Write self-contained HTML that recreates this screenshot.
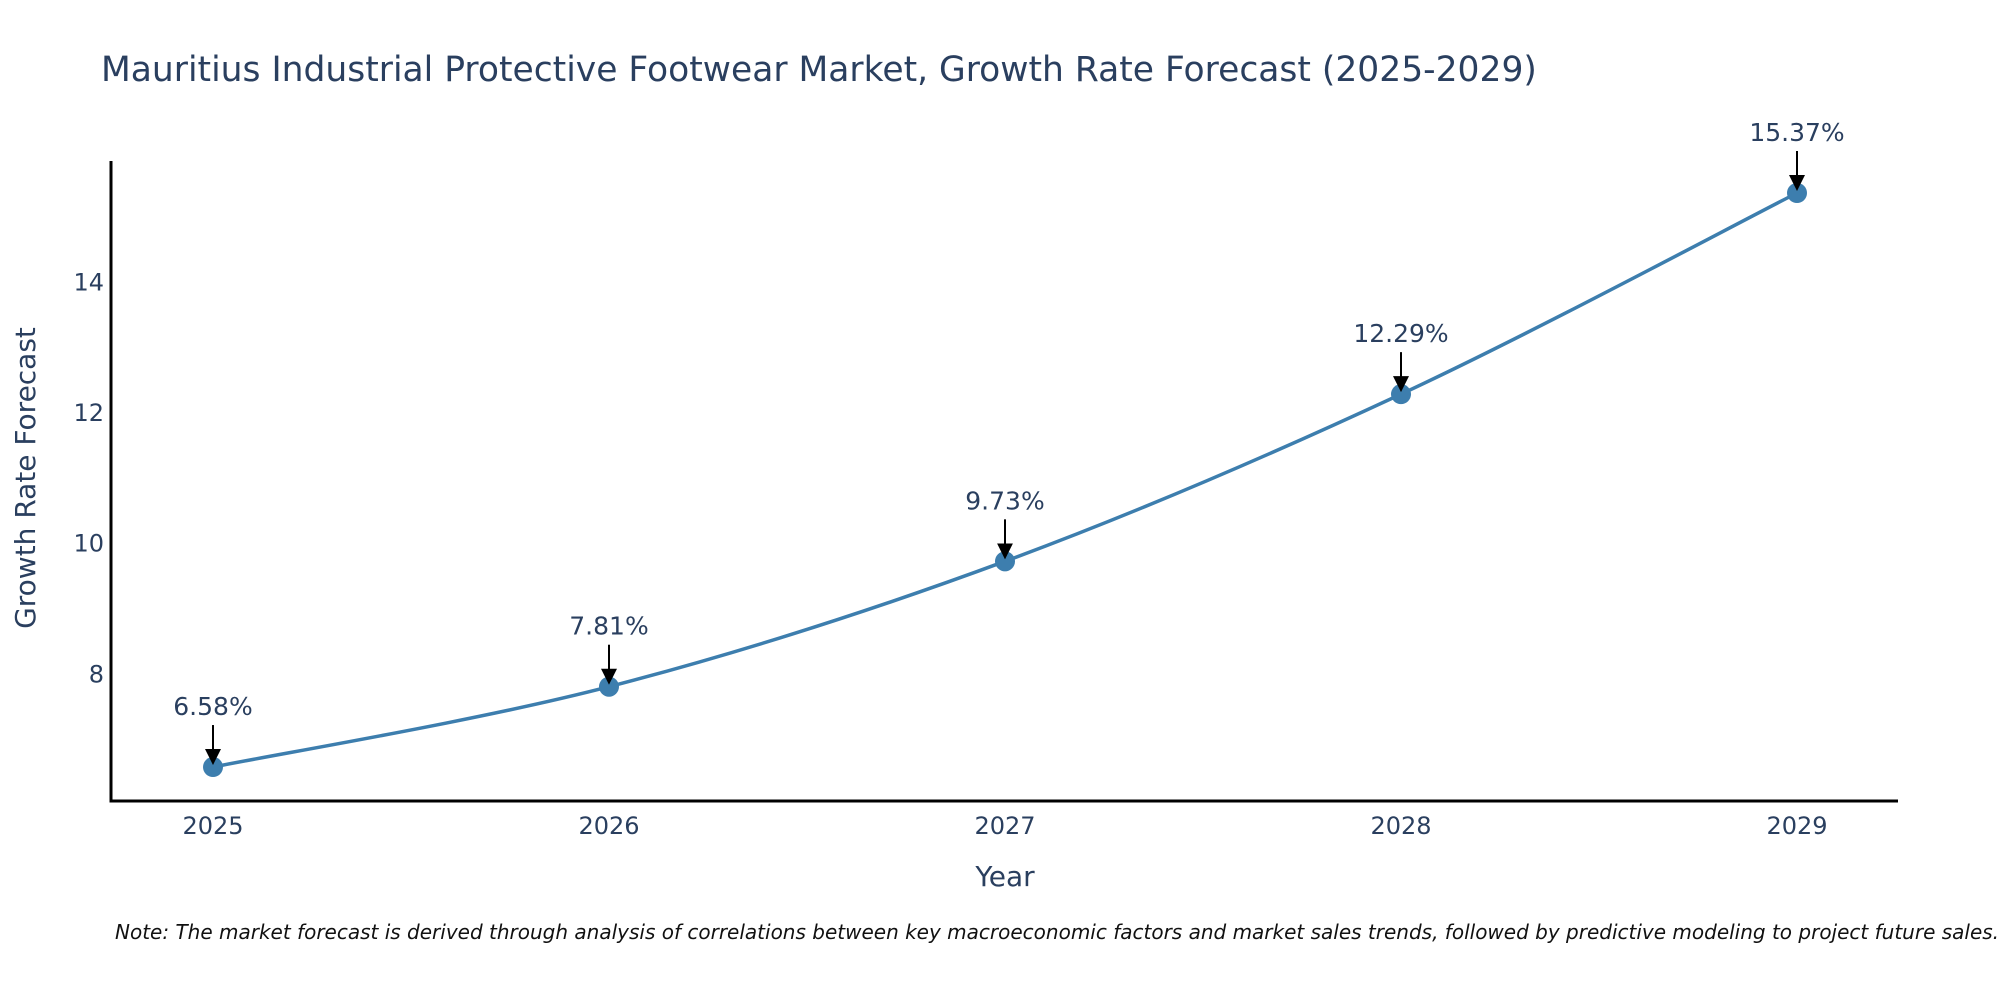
<!DOCTYPE html>
<html><head><meta charset="utf-8"><style>
html,body{margin:0;padding:0;background:#fff;width:2000px;height:1000px;overflow:hidden}
text{font-family:"DejaVu Sans","Liberation Sans",sans-serif}
</style></head><body>
<svg id="chart" width="2000" height="1000" xmlns="http://www.w3.org/2000/svg">
<defs><marker id="ah" markerWidth="16" markerHeight="16" refX="14" refY="8" orient="auto" markerUnits="userSpaceOnUse" viewBox="0 0 16 16"><path d="M0,0 L16,8 L0,16 z" fill="#000"/></marker></defs>
<text x="101" y="81" font-size="34.5" fill="#2a3f5f">Mauritius Industrial Protective Footwear Market, Growth Rate Forecast (2025-2029)</text>
<g id="plot"></g>
<text x="1005" y="886" font-size="28" fill="#2a3f5f" text-anchor="middle">Year</text>
<text transform="translate(35,478) rotate(-90)" font-size="28" fill="#2a3f5f" text-anchor="middle">Growth Rate Forecast</text>
<text x="115" y="939" font-size="20" font-style="italic" fill="#111">Note: The market forecast is derived through analysis of correlations between key macroeconomic factors and market sales trends, followed by predictive modeling to project future sales.</text>
</svg>
<script>
const years = ["2025","2026","2027","2028","2029"];
const growth = [6.58, 7.81, 9.73, 12.29, 15.37];
const yTicks = [8, 10, 12, 14];
const labels = ["6.58%","7.81%","9.73%","12.29%","15.37%"];

const NS="http://www.w3.org/2000/svg";
const g=document.getElementById('plot');
const xL=111,xR=1898,yT=161,yB=801;
const yMin=6.06,yMax=15.86;
const x0=213,x1=1797;
function xs(i){return x0+(x1-x0)*i/(years.length-1);}
function ys(v){return yB-(v-yMin)/(yMax-yMin)*(yB-yT);}
function mk(t,a){const e=document.createElementNS(NS,t);for(const k in a)e.setAttribute(k,a[k]);g.appendChild(e);return e;}
let ax=mk('line',{x1:xL,y1:yT,x2:xL,y2:yB+1.5,stroke:'#000','stroke-width':3});


ax=mk('line',{x1:xL-1.5,y1:yB,x2:xR,y2:yB,stroke:'#000','stroke-width':3});


yTicks.forEach(v=>{const t=mk('text',{x:xL-7,y:ys(v)+8,'font-size':24,fill:'#2a3f5f','text-anchor':'end'});t.textContent=v;

});
years.forEach((y,i)=>{const t=mk('text',{x:xs(i),y:834,'font-size':24,fill:'#2a3f5f','text-anchor':'middle'});t.textContent=y;

});
const P=growth.map((v,i)=>[xs(i),ys(v)]);
let d='M'+P[0][0]+','+P[0][1];
for(let i=0;i<P.length-1;i++){const p0=P[Math.max(i-1,0)],p1=P[i],p2=P[i+1],p3=P[Math.min(i+2,P.length-1)];const s=6;
d+=' C'+(p1[0]+(p2[0]-p0[0])/s)+','+(p1[1]+(p2[1]-p0[1])/s)+' '+(p2[0]-(p3[0]-p1[0])/s)+','+(p2[1]-(p3[1]-p1[1])/s)+' '+p2[0]+','+p2[1];}
const line=mk('path',{d:d,fill:'none',stroke:'#3d7eae','stroke-width':3.5});


P.forEach((p,i)=>{
const c=mk('circle',{cx:p[0],cy:p[1],r:10,fill:'#3d7eae'});


const a=mk('line',{x1:p[0],y1:p[1]-42,x2:p[0],y2:p[1]-4,stroke:'#000','stroke-width':2,'marker-end':'url(#ah)'});


const t=mk('text',{x:p[0],y:p[1]-52,'font-size':25,fill:'#2a3f5f','text-anchor':'middle'});t.textContent=labels[i];


});
</script>
</body></html>
